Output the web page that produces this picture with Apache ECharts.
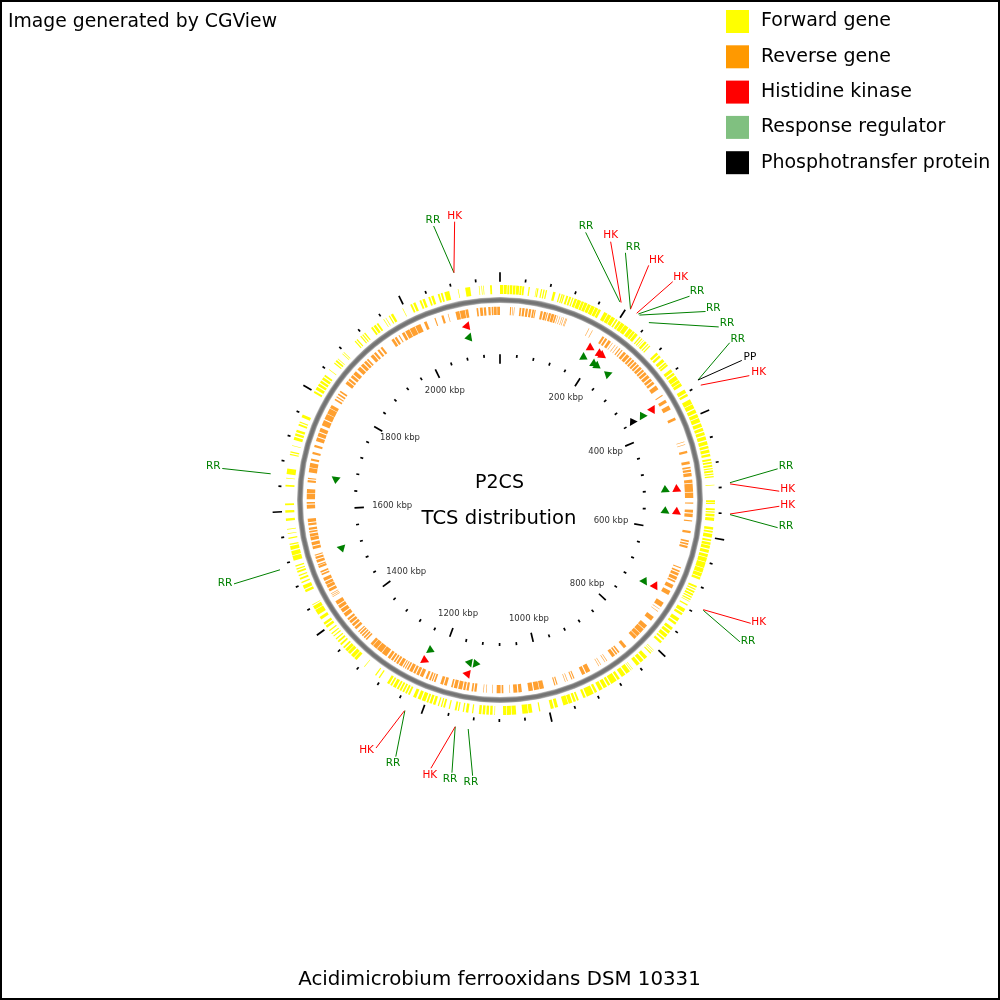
<!DOCTYPE html>
<html><head><meta charset="utf-8">
<style>html,body{margin:0;padding:0;background:#fff}#c{width:1000px;height:1000px}</style>
<script src="https://cdn.jsdelivr.net/npm/echarts@6/dist/echarts.min.js"></script>
</head><body><div id="c"></div>
<script>
var genomeKbp = 2158;
var forwardGenes = [[0,5],[6,11],[12,15],[16,20],[21,25],[26,31],[32,35],[36,39],[46,48],[58,59],[60,62],[66,68],[70,72],[74,76],[86,90],[96,98],[100,102],[103,105],[108,111],[113,116],[118,120],[122,126],[127,133],[134,138],[139,144],[145,150],[151,157],[158,163],[164,168],[174,180],[181,187],[188,194],[196,199],[201,205],[206,212],[213,220],[222,228],[229,233],[234,239],[243,245],[247,249],[251,252],[254,258],[260,262],[264,266],[280,284],[286,290],[294,299],[301,304],[305,308],[315,320],[322,326],[328,335],[336,341],[342,347],[354,360],[362,366],[372,380],[381,388],[390,396],[398,404],[405,412],[414,420],[422,427],[429,434],[436,442],[444,450],[452,456],[458,463],[465,469],[473,476],[478,481],[483,486],[488,490],[492,495],[497,499],[501,503],[515,516],[540,543],[544,546],[553,556],[558,560],[562,566],[568,573],[583,587],[589,592],[594,600],[603,606],[608,612],[613,618],[620,625],[627,632],[633,640],[641,650],[651,658],[659,665],[666,670],[681,684],[686,688],[690,693],[695,698],[700,702],[704,706],[708,709],[714,716],[722,728],[730,734],[740,746],[748,752],[758,763],[765,770],[772,778],[780,783],[786,790],[805,806],[808,809],[811,813],[820,826],[828,834],[836,842],[850,851],[853,854],[856,863],[865,872],[876,880],[882,892],[894,898],[900,906],[908,914],[918,922],[924,936],[938,942],[950,953],[955,959],[961,967],[968,976],[985,990],[992,997],[1014,1016],[1027,1033],[1034,1043],[1053,1060],[1061,1068],[1069,1074],[1087,1088],[1091,1095],[1097,1101],[1103,1107],[1109,1113],[1122,1124],[1130,1134],[1137,1139],[1145,1147],[1149,1152],[1160,1162],[1168,1171],[1173,1175],[1178,1180],[1184,1188],[1190,1194],[1196,1199],[1201,1207],[1209,1214],[1217,1222],[1228,1231],[1233,1236],[1238,1241],[1243,1246],[1248,1251],[1253,1258],[1260,1263],[1265,1269],[1283,1285],[1290,1292],[1313,1314],[1330,1335],[1336,1342],[1344,1349],[1350,1355],[1357,1360],[1364,1367],[1370,1373],[1376,1378],[1382,1384],[1387,1389],[1393,1395],[1400,1404],[1406,1410],[1416,1421],[1425,1434],[1435,1441],[1443,1444],[1466,1470],[1472,1478],[1482,1484],[1488,1491],[1494,1496],[1500,1503],[1505,1507],[1510,1512],[1520,1528],[1529,1536],[1538,1544],[1546,1548],[1556,1558],[1564,1565],[1571,1572],[1585,1589],[1598,1602],[1610,1613],[1640,1643],[1653,1654],[1660,1669],[1691,1693],[1695,1697],[1706,1707],[1716,1721],[1723,1727],[1729,1733],[1740,1743],[1745,1747],[1754,1759],[1798,1801],[1804,1809],[1811,1815],[1817,1821],[1823,1827],[1829,1832],[1842,1843],[1855,1857],[1859,1862],[1864,1865],[1875,1876],[1878,1879],[1903,1905],[1907,1909],[1915,1917],[1919,1921],[1923,1925],[1937,1940],[1942,1946],[1948,1951],[1961,1962],[1965,1966],[1971,1973],[1975,1979],[1996,1997],[2010,2013],[2015,2019],[2026,2029],[2031,2035],[2041,2044],[2046,2050],[2057,2060],[2062,2065],[2068,2076],[2090,2091],[2102,2110],[2124,2125],[2128,2129],[2131,2132],[2142,2145]];
var reverseGenes = [[18,20],[22,23],[25,26],[35,38],[40,44],[46,50],[52,56],[58,61],[62,64],[73,77],[79,83],[84,86],[88,92],[93,98],[99,102],[104,105],[108,109],[112,113],[115,116],[119,120],[121,122],[164,165],[171,172],[192,196],[198,202],[205,210],[213,214],[219,220],[224,225],[229,231],[234,236],[239,244],[246,252],[254,258],[260,264],[266,270],[272,276],[278,283],[285,289],[291,296],[298,304],[306,311],[313,318],[322,330],[342,344],[352,358],[364,372],[388,393],[434,435],[439,440],[451,455],[470,475],[480,483],[485,489],[491,497],[503,509],[510,525],[526,536],[544,546],[557,562],[564,570],[576,578],[595,599],[612,615],[617,620],[622,626],[662,664],[668,671],[673,678],[680,686],[688,691],[696,703],[708,716],[732,741],[745,746],[750,751],[763,771],[782,790],[791,800],[801,808],[809,815],[834,840],[850,853],[855,858],[860,866],[877,878],[881,882],[890,891],[894,895],[912,920],[922,928],[943,945],[947,949],[956,957],[960,961],[975,977],[979,981],[1000,1008],[1009,1018],[1020,1028],[1040,1046],[1048,1055],[1061,1062],[1073,1076],[1078,1085],[1092,1093],[1103,1104],[1108,1109],[1121,1125],[1127,1130],[1135,1139],[1141,1145],[1147,1154],[1156,1162],[1164,1167],[1175,1180],[1182,1187],[1196,1199],[1201,1203],[1205,1208],[1211,1215],[1220,1226],[1228,1233],[1235,1239],[1241,1247],[1249,1252],[1254,1256],[1258,1260],[1262,1268],[1270,1274],[1276,1279],[1281,1285],[1287,1292],[1295,1305],[1306,1316],[1317,1325],[1326,1331],[1340,1343],[1345,1348],[1350,1353],[1355,1358],[1360,1362],[1367,1372],[1374,1379],[1381,1386],[1388,1392],[1396,1403],[1405,1412],[1414,1420],[1422,1429],[1438,1439],[1441,1442],[1444,1445],[1449,1454],[1456,1462],[1463,1468],[1470,1476],[1481,1484],[1486,1489],[1495,1499],[1500,1502],[1505,1510],[1512,1516],[1518,1520],[1530,1535],[1537,1543],[1546,1552],[1553,1558],[1560,1563],[1565,1569],[1573,1577],[1579,1585],[1603,1610],[1612,1615],[1620,1630],[1631,1638],[1650,1654],[1656,1658],[1668,1676],[1677,1685],[1689,1693],[1701,1705],[1714,1718],[1725,1732],[1734,1741],[1743,1750],[1755,1765],[1767,1777],[1778,1788],[1789,1795],[1805,1808],[1811,1813],[1816,1819],[1822,1825],[1840,1846],[1848,1852],[1855,1860],[1862,1869],[1873,1880],[1882,1888],[1890,1895],[1897,1900],[1906,1912],[1914,1918],[1922,1926],[1929,1933],[1953,1958],[1960,1964],[1968,1970],[1975,1980],[1982,1990],[1991,2001],[2002,2012],[2019,2024],[2039,2041],[2052,2056],[2064,2065],[2078,2085],[2086,2095],[2096,2101],[2116,2119],[2122,2127],[2129,2133],[2137,2141],[2143,2146],[2147,2152],[2153,2158]];
// kbp position, strand direction (+1 clockwise, -1 counter-clockwise)
var hkMarks = [[186,1],[207,1],[213,1],[358,1],[516,-1],[560,-1],[711,-1],[1145,1],[1228,-1],[2091,-1]];
var rrMarks = [[184,1],[209,1],[217,1],[241,-1],[354,-1],[516,-1],[560,-1],[713,-1],[1127,-1],[1145,1],[1226,-1],[1515,-1],[1659,-1],[2091,-1]];
var ppMarks = [[354,-1]];
var majorTicks = [0,200,400,600,800,1000,1200,1400,1600,1800,2000];
var minorTicks = [40,80,120,160,240,280,320,360,440,480,520,560,640,680,720,760,840,880,920,960,1040,1080,1120,1160,1240,1280,1320,1360,1440,1480,1520,1560,1640,1680,1720,1760,1840,1880,1920,1960,2040,2080,2120];
var scaleLabels = [['200 kbp',197,121.5],['400 kbp',393,116],['600 kbp',604,113],['800 kbp',803,121],['1000 kbp',997,122.5],['1200 kbp',1200,121.5],['1400 kbp',1393,118.4],['1600 kbp',1599,108],['1800 kbp',1809,117.7],['2000 kbp',1997,122]];
// label, start kbp, start radius, line end kbp, line end radius, label kbp, label radius
var callouts = [
['RR',187,231.5,106.4,281,104.7,286.5],['HK',189,231.6,139,281,135.9,287.2],['RR',206,231.2,161.3,277.2,166.6,285.6],['HK',206,231.2,194,277.8,198.4,286.6],
['HK',217,231.4,229.9,278.4,233.8,287],['RR',219.6,231.8,257.3,278.3,259.8,287.2],['RR',221.9,231.6,284.6,278.9,287.7,287],['RR',239.8,231.6,309.6,278.9,312,287.9],
['RR',352.4,231.5,333.3,278.4,335,287.3],['PP',352.4,231.5,359.7,279.2,360.8,288],['HK',361,231.3,380.6,278.6,381.8,288.6],
['RR',513.7,230.6,501.1,279.4,498.7,288],['HK',515.5,230.6,528.7,279.4,526.3,287.9],['HK',560.4,230.4,547.2,279.4,545.5,287.7],['RR',561.3,230.5,573.6,279,570.6,287.2],
['HK',709.4,231,696.5,279.4,690.8,286],['RR',710.3,231.3,722.9,278.7,716.9,285.3],
['RR',1126.4,231.2,1113,277.1,1114.3,283.5],['RR',1146,231.1,1138.9,276.9,1139.8,283.4],['HK',1146,231.1,1165.6,277,1164.8,283.8],
['RR',1224.7,231.1,1211.5,277,1211.7,284],['HK',1225.2,231.4,1238.2,277.3,1247.4,283.3],
['RR',1657.6,230.8,1657.3,279.5,1658.5,288.7],['RR',1513,230.8,1513.6,278.9,1517.7,287.3],
['RR',2089.3,231.9,2076.4,281.9,2077.2,287.9],['HK',2089.3,231.9,2102.5,282,2103.6,287.6]];
var backboneBands = [[200,6,'#c0c0c0'],[200,4.8,'#8e8e8e'],[200,3,'#747474']];

var FONT = '"DejaVu Sans"';
var COL = {RR:'#008000', HK:'#ff0000', PP:'#000000'};

function genesRender(r0, r1, fill, rows){
  return function(params, api){
    var g = rows[params.dataIndex];
    var pts = [api.coord([r0,g[0]]), api.coord([r1,g[0]]), api.coord([r1,g[1]]), api.coord([r0,g[1]])];
    return {type:'polygon', shape:{points:pts}, style:{fill:fill}};
  };
}
function marksRender(rad, fill, rows){
  return function(params, api){
    var m = rows[params.dataIndex], half = 7.5;
    var pts = [api.coord([rad-4.5, m[0]-m[1]*half]), api.coord([rad+4.5, m[0]-m[1]*half]), api.coord([rad, m[0]+m[1]*half])];
    return {type:'polygon', shape:{points:pts}, style:{fill:fill}};
  };
}
function ticksRender(r0, r1, w, rows){
  return function(params, api){
    var k = rows[params.dataIndex];
    var a = api.coord([r0,k]), b = api.coord([r1,k]);
    return {type:'line', shape:{x1:a[0],y1:a[1],x2:b[0],y2:b[1]}, style:{stroke:'#000',lineWidth:w}};
  };
}
function pairs(rows){ return rows.map(function(r){ return [r[0], r[1]]; }); }
function custom(name, data, fn, extra){
  var s = {name:name, type:'custom', coordinateSystem:'polar', data:data, renderItem:fn, silent:true, animation:false, clip:false};
  for (var k in extra) s[k]=extra[k];
  return s;
}

var series = [
  custom('Forward gene', pairs(forwardGenes), genesRender(206,215,'#ffff00',forwardGenes), {itemStyle:{color:'#ffff00'}}),
  custom('Reverse gene', pairs(reverseGenes), genesRender(185,193.3,'#ffa030',reverseGenes), {itemStyle:{color:'#ff9900'}}),
  custom('Histidine kinase', pairs(hkMarks), marksRender(177,'#ff0000',hkMarks), {itemStyle:{color:'#ff0000'}}),
  custom('Response regulator', pairs(rrMarks), marksRender(165.5,'#008000',rrMarks), {itemStyle:{color:'#80c080'}}),
  custom('Phosphotransfer protein', pairs(ppMarks), marksRender(154,'#000000',ppMarks), {itemStyle:{color:'#000000'}}),
  custom('backbone', pairs(backboneBands), function(params, api){
    var b = backboneBands[params.dataIndex];
    var c = api.coord([0,0]), p = api.coord([b[0],0]);
    return {type:'circle', shape:{cx:c[0],cy:c[1],r:c[1]-p[1]}, style:{fill:'none',stroke:b[2],lineWidth:b[1]}};
  }),
  custom('outerMajor', majorTicks.map(function(k){return [222,k];}), ticksRender(218.3,227.7,1.7,majorTicks)),
  custom('outerMinor', minorTicks.map(function(k){return [220,k];}), ticksRender(219,222,1.7,minorTicks)),
  custom('innerMajor', majorTicks.map(function(k){return [140,k];}), ticksRender(136.3,145.7,1.7,majorTicks)),
  custom('innerMinor', minorTicks.map(function(k){return [144,k];}), ticksRender(143,146,1.7,minorTicks)),
  custom('scaleLabels', scaleLabels.map(function(l){return [l[2],l[1]];}), function(params, api){
    var l = scaleLabels[params.dataIndex], p = api.coord([l[2],l[1]]);
    return {type:'text', style:{text:l[0],x:p[0],y:p[1],fill:'#333',font:'8.5px '+FONT,textAlign:'center',textVerticalAlign:'middle',align:'center',verticalAlign:'middle'}};
  }),
  custom('callouts', callouts.map(function(c){return [c[2],c[1]];}), function(params, api){
    var c = callouts[params.dataIndex], a = api.coord([c[2],c[1]]), b = api.coord([c[4],c[3]]), t = api.coord([c[6],c[5]]);
    return {type:'group', children:[
      {type:'line', shape:{x1:a[0],y1:a[1],x2:b[0],y2:b[1]}, style:{stroke:COL[c[0]],lineWidth:1}},
      {type:'text', style:{text:c[0],x:t[0],y:t[1],fill:COL[c[0]],font:'10.5px '+FONT,textAlign:'center',textVerticalAlign:'middle',align:'center',verticalAlign:'middle'}}
    ]};
  })
];

var chart = echarts.init(document.getElementById('c'), null, {renderer:'canvas', width:1000, height:1000});
chart.setOption({
  animation:false,
  backgroundColor:'#fff',
  polar:{center:[500,500], radius:300},
  angleAxis:{type:'value', min:0, max:genomeKbp, startAngle:90, clockwise:true, show:false},
  radiusAxis:{type:'value', min:0, max:300, show:false},
  legend:{show:true, orient:'vertical', left:726, top:10, padding:0, itemWidth:23, itemHeight:23, itemGap:12.3, icon:'rect', selectedMode:false,
    data:['Forward gene','Reverse gene','Histidine kinase','Response regulator','Phosphotransfer protein'],
    textStyle:{fontFamily:FONT, fontSize:19, color:'#000', padding:[6,0,0,7]}},
  title:[
    {text:'Image generated by CGView', left:8, top:13, padding:0, textStyle:{fontFamily:FONT,fontSize:18.8,fontWeight:'normal',color:'#000'}},
    {text:'P2CS', left:499.5, top:474, padding:0, textAlign:'center', textStyle:{fontFamily:FONT,fontSize:19,fontWeight:'normal',color:'#000'}},
    {text:'TCS distribution', left:499, top:509, padding:0, textAlign:'center', textStyle:{fontFamily:FONT,fontSize:19.6,fontWeight:'normal',color:'#000'}},
    {text:'Acidimicrobium ferrooxidans DSM 10331', left:499.5, top:970, padding:0, textAlign:'center', textStyle:{fontFamily:FONT,fontSize:19.8,fontWeight:'normal',color:'#000'}}
  ],
  graphic:[{type:'rect', silent:true, z:100, shape:{x:1,y:1,width:998,height:998}, style:{fill:'none',stroke:'#000',lineWidth:2}}],
  series:series
});
</script></body></html>
